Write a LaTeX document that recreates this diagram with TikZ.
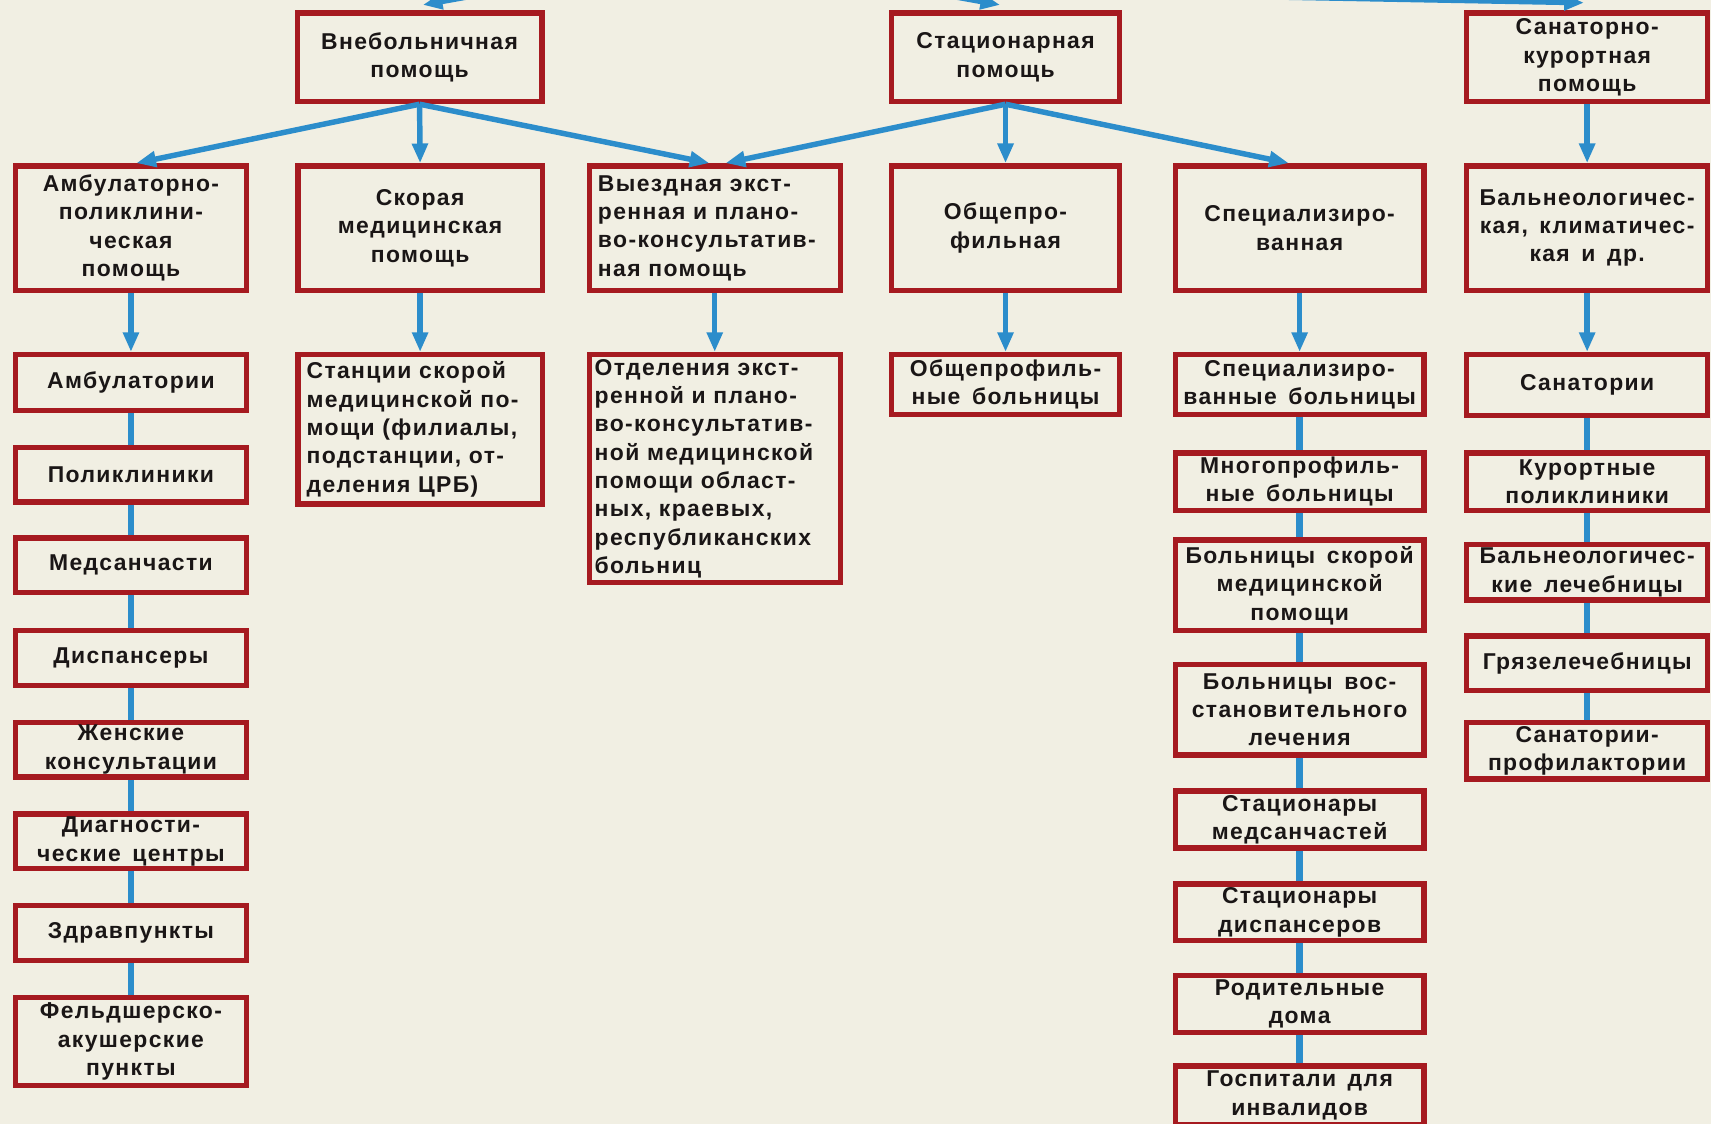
\documentclass[tikz,border=0pt]{standalone}
\usepackage{fontspec}
\setmainfont{Liberation Sans}
\newfontfamily\boxfont[LetterSpace=6,WordSpace=1.5]{Liberation Sans}
\usetikzlibrary{arrows.meta}
\definecolor{bgc}{HTML}{F1EFE3}
\definecolor{boxred}{HTML}{A61A20}
\definecolor{arrblue}{HTML}{2C8DCB}
\definecolor{txt}{HTML}{1A1616}
\begin{document}
\begin{tikzpicture}[x=1pt,y=-1pt,
  bx/.style={draw=boxred, line width=5pt, fill=bgc, rectangle, inner sep=0pt,
    align=center, text=txt, font=\boxfont\bfseries\fontsize{21}{26}\selectfont},
  bxl/.style={bx, align=left},
  colA/.style={minimum width=212pt},
  colB/.style={minimum width=224pt},
  colC/.style={minimum width=230pt},
  colD/.style={minimum width=209pt},
  colE/.style={minimum width=228pt},
  colF/.style={minimum width=221pt},
  arr/.style={draw=arrblue, line width=5pt, -{Triangle[length=18pt,width=14pt]}},
  link/.style={draw=arrblue, line width=6pt}]
\useasboundingbox (0,0) rectangle (1568,1030);
\clip (0,0) rectangle (1568,1030);
\fill[bgc] (0,0) rectangle (1568,1030);

% row 1
\node[bx, colB, minimum height=81pt] (vneb) at (384.5,52.5) {Внебольничная\\помощь};
\node[bx, colD, minimum height=81pt] (stac) at (921.5,52.5) {Стационарная\\помощь};
\node[bx, colF, minimum height=81pt] (sank) at (1454.5,52.5) {Санаторно-\\курортная\\помощь};

% row 2
\node[bx, colA, minimum height=114pt] (amb) at (120,209) {Амбулаторно-\\поликлини-\\ческая\\помощь};
\node[bx, colB, minimum height=114pt] (skor) at (385,209) {Скорая\\медицинская\\помощь};
\node[bxl, colC, text width=214pt, minimum height=114pt] (vyezd) at (655,209) {Выездная экст-\\ренная и плано-\\во-консультатив-\\ная помощь};
\node[bx, colD, minimum height=114pt] (obsh) at (921.5,209) {Общепро-\\фильная};
\node[bx, colE, minimum height=114pt] (spec) at (1191,209) {Специализиро-\\ванная};
\node[bx, colF, minimum height=114pt] (baln) at (1454.5,209) {Бальнеологичес-\\кая, климатичес-\\кая и др.};

% column A
\node[bx, colA, minimum height=51pt] (a1) at (120,350.5) {Амбулатории};
\node[bx, colA, minimum height=50pt] (a2) at (120,435) {Поликлиники};
\node[bx, colA, minimum height=50pt] (a3) at (120,518) {Медсанчасти};
\node[bx, colA, minimum height=50pt] (a4) at (120,603) {Диспансеры};
\node[bx, colA, minimum height=50pt] (a5) at (120,687) {Женские\\консультации};
\node[bx, colA, minimum height=50pt] (a6) at (120,771) {Диагности-\\ческие центры};
\node[bx, colA, minimum height=50pt] (a7) at (120,855) {Здравпункты};
\node[bx, colA, minimum height=81pt] (a8) at (120,954.5) {Фельдшерско-\\акушерские\\пункты};

% columns B, C, D
\node[bxl, colB, text width=208pt, minimum height=137pt] (st) at (385,393.5) {Станции скорой\\медицинской по-\\мощи (филиалы,\\подстанции, от-\\деления ЦРБ)};
\node[bxl, colC, text width=220pt, minimum height=209pt] (otd) at (655,429.5) {Отделения экст-\\ренной и плано-\\во-консультатив-\\ной медицинской\\помощи област-\\ных, краевых,\\республиканских\\больниц};
\node[bx, colD, minimum height=55pt] (obb) at (921.5,352.5) {Общепрофиль-\\ные больницы};

% column E
\node[bx, colE, minimum height=55pt] (s1) at (1191,352.5) {Специализиро-\\ванные больницы};
\node[bx, colE, minimum height=53pt] (s2) at (1191,441.5) {Многопрофиль-\\ные больницы};
\node[bx, colE, minimum height=83pt] (s3) at (1191,536.5) {Больницы скорой\\медицинской\\помощи};
\node[bx, colE, minimum height=83pt] (s4) at (1191,650.5) {Больницы вос-\\становительного\\лечения};
\node[bx, colE, minimum height=52pt] (s5) at (1191,751) {Стационары\\медсанчастей};
\node[bx, colE, minimum height=52pt] (s6) at (1191,836) {Стационары\\диспансеров};
\node[bx, colE, minimum height=52pt] (s7) at (1191,920) {Родительные\\дома};
\node[bx, colE, minimum height=54pt] (s8) at (1191,1004) {Госпитали для\\инвалидов};

% column F
\node[bx, colF, minimum height=56pt] (k1) at (1454.5,353) {Санатории};
\node[bx, colF, minimum height=53pt] (k2) at (1454.5,441.5) {Курортные\\поликлиники};
\node[bx, colF, minimum height=51pt] (k3) at (1454.5,524.5) {Бальнеологичес-\\кие лечебницы};
\node[bx, colF, minimum height=50pt] (k4) at (1454.5,608) {Грязелечебницы};
\node[bx, colF, minimum height=52pt] (k5) at (1454.5,688) {Санатории-\\профилактории};

% incoming arrows from above (cut off)
\coordinate (inA) at (496,-15);
\coordinate (inB) at (808,-15);
\coordinate (inC) at (1100,-4);
\draw[arr] (inA) -- ([xshift=3pt,yshift=5pt]vneb.north);
\draw[arr] (inB) -- ([xshift=-5pt,yshift=5pt]stac.north);
\draw[arr] (inC) -- ([xshift=-3pt,yshift=7pt]sank.north);

% row 1 -> row 2
\draw[arr] (vneb.south) -- ([xshift=5pt]amb.north);
\draw[arr] (vneb.south) -- (skor.north);
\draw[arr] (vneb.south) -- ([xshift=-5pt]vyezd.north);
\draw[arr] (stac.south) -- ([xshift=10pt]vyezd.north);
\draw[arr] (stac.south) -- (obsh.north);
\draw[arr] (stac.south) -- ([xshift=-10pt]spec.north);
\draw[arr] (sank.south) -- (baln.north);

% row 2 -> row 3
\draw[arr] (amb.south) -- (a1.north);
\draw[arr] (skor.south) -- (st.north);
\draw[arr] (vyezd.south) -- (otd.north);
\draw[arr] (obsh.south) -- (obb.north);
\draw[arr] (spec.south) -- (s1.north);
\draw[arr] (baln.south) -- (k1.north);

% column links
\draw[link] (a1.south) -- (a2.north);
\draw[link] (a2.south) -- (a3.north);
\draw[link] (a3.south) -- (a4.north);
\draw[link] (a4.south) -- (a5.north);
\draw[link] (a5.south) -- (a6.north);
\draw[link] (a6.south) -- (a7.north);
\draw[link] (a7.south) -- (a8.north);
\draw[link] (s1.south) -- (s2.north);
\draw[link] (s2.south) -- (s3.north);
\draw[link] (s3.south) -- (s4.north);
\draw[link] (s4.south) -- (s5.north);
\draw[link] (s5.south) -- (s6.north);
\draw[link] (s6.south) -- (s7.north);
\draw[link] (s7.south) -- (s8.north);
\draw[link] (k1.south) -- (k2.north);
\draw[link] (k2.south) -- (k3.north);
\draw[link] (k3.south) -- (k4.north);
\draw[link] (k4.south) -- (k5.north);
\end{tikzpicture}
\end{document}
